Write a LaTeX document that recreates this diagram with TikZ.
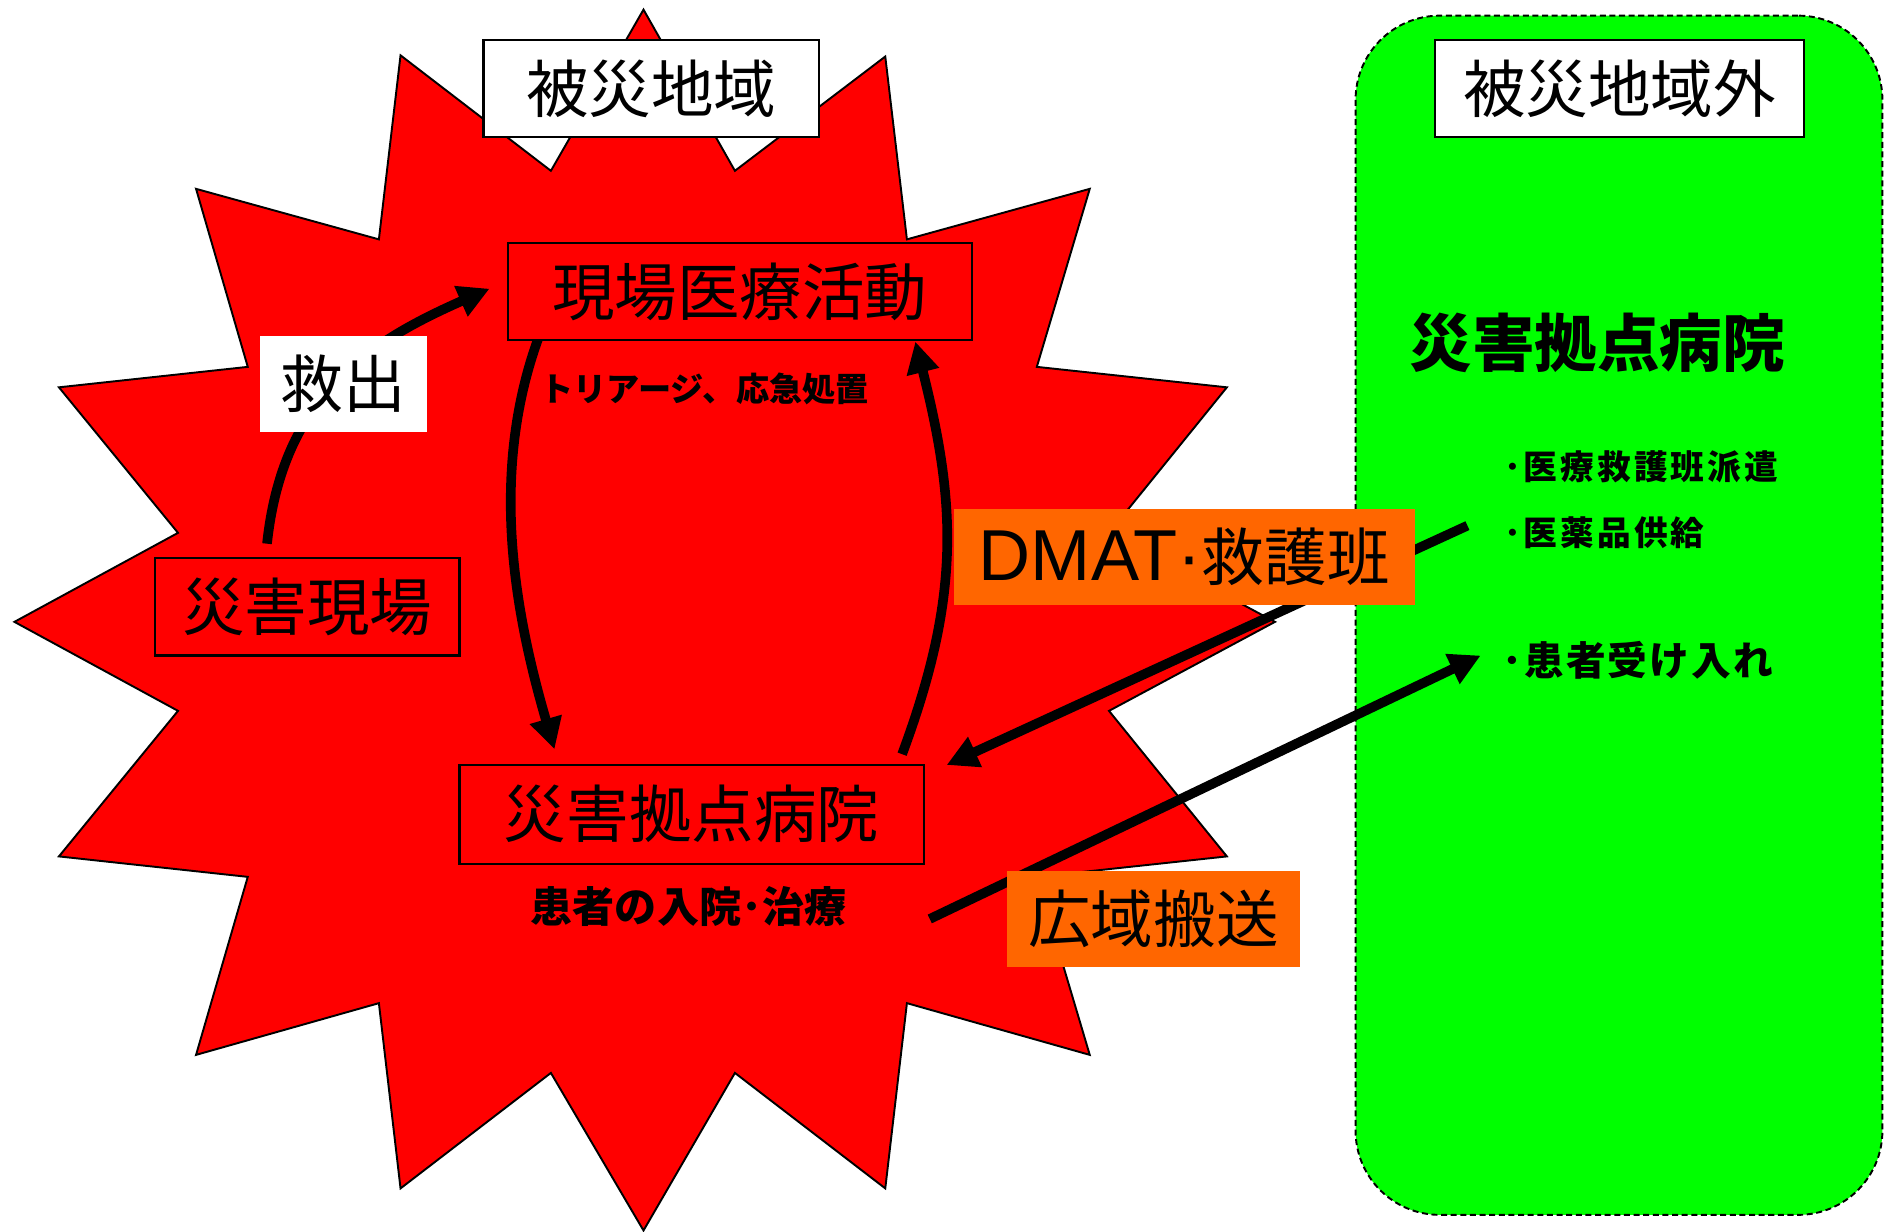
\documentclass[tikz,border=0pt]{standalone}
\usepackage{fontspec}
\setmainfont{Liberation Sans}
\newfontfamily\jp{Noto Sans CJK JP}
\newfontfamily\jpls[LetterSpace=9]{Noto Sans CJK JP}
\newfontfamily\jplt[LetterSpace=5]{Noto Sans CJK JP}
\usetikzlibrary{arrows.meta}
\definecolor{starred}{HTML}{FF0000}
\definecolor{boxorange}{HTML}{FF6600}
\definecolor{zonegreen}{HTML}{00FF00}
\begin{document}
\begin{tikzpicture}[x=0.5pt,y=-0.5pt,
  jpbig/.style={font=\jp\fontsize{26pt}{30pt}\selectfont},
  framed/.style={draw=black, line width=0.9pt, inner sep=0pt, jpbig},
  plainbox/.style={inner sep=0pt, jpbig},
  flow/.style={line width=4pt, -{Triangle[length=13pt,width=13pt]}},
  smallbold/.style={inner sep=0pt, font=\jp\bfseries\fontsize{#1}{#1}\selectfont},
  listbold/.style={anchor=west, inner sep=0pt, font=\jpls\bfseries\fontsize{#1}{#1}\selectfont},
  listboldb/.style={anchor=west, inner sep=0pt, font=\jplt\bfseries\fontsize{#1}{#1}\selectfont},
]
\useasboundingbox (0,0) rectangle (1568,1024);
\fill[white] (0,0) rectangle (1568,1024);

% zone outside the disaster area
\node[draw=black, line width=0.8pt, dash pattern=on 2.5pt off 1.5pt, fill=zonegreen,
      rounded corners=35pt, minimum width=219pt, minimum height=498.5pt, inner sep=0pt] (zone) at (1346,511.5) {};

% disaster area star
\draw[line width=0.8pt, fill=starred]
  (535,8) -- (611,142) -- (736,47) -- (754,199) -- (906,157) -- (862,305) --
  (1020,322) -- (922,443) -- (1060,517) -- (922,591) -- (1020,712) -- (862,729) --
  (906,877) -- (754,834) -- (736,988) -- (611,892) -- (535,1023) -- (458,892) --
  (333,988) -- (315,834) -- (163,877) -- (206,729) -- (49,712) -- (148,591) --
  (12,517) -- (148,443) -- (49,322) -- (206,305) -- (163,157) -- (315,199) --
  (333,46) -- (458,142) -- cycle;

% connector end points
\coordinate (r0) at (222,452);
\coordinate (r1) at (407,240);
\coordinate (la0) at (448,280);
\coordinate (la1) at (461,623);
\coordinate (ra0) at (750,627);
\coordinate (ra1) at (761,284);
\coordinate (d0) at (1220,437);
\coordinate (d1) at (787,636);
\coordinate (w0) at (773,764);
\coordinate (w1) at (1231,545);

\draw[flow] (r0) .. controls (235,330) and (305,285) .. (r1);
\draw[flow] (la0) .. controls (406.7,392.4) and (427.4,507.8) .. (la1);
\draw[flow] (ra0) .. controls (798.7,496) and (795.2,419.8) .. (ra1);
\draw[flow] (d0) -- (d1);
\draw[flow] (w0) -- (w1);

% boxes
\node[framed, fill=white, minimum width=139.5pt, minimum height=40.5pt] (area) at (541.5,73.5) {被災地域};
\node[framed, fill=starred, minimum width=193pt, minimum height=40.5pt] (field) at (615,242.5) {現場医療活動};
\node[plainbox, fill=white, minimum width=69.5pt, minimum height=40pt] (rescue) at (285.5,319) {救出};
\node[framed, fill=starred, minimum width=126.5pt, minimum height=40.5pt] (site) at (255.5,504.5) {災害現場};
\node[framed, fill=starred, minimum width=193pt, minimum height=41pt] (hosp) at (575,677) {災害拠点病院};
\node[plainbox, fill=boxorange, minimum width=191.5pt, minimum height=40pt] (dmat) at (984.5,463)
  {{\rmfamily\fontsize{30pt}{34pt}\selectfont DMAT·}救護班};
\node[plainbox, fill=boxorange, minimum width=122pt, minimum height=40pt] (wide) at (959,764) {広域搬送};
\node[framed, fill=white, minimum width=153.5pt, minimum height=40.5pt] (outlabel) at (1346.5,73.5) {被災地域外};

% texts
\node[smallbold=26pt] (ohosp) at (1328,285) {災害拠点病院};
\node[listbold=14pt] (s1) at (1250,388) {･医療救護班派遣};
\node[listbold=14pt] (s2) at (1250,443) {･医薬品供給};
\node[listboldb=16.5pt] (s3) at (1249,549) {･患者受け入れ};
\node[smallbold=13.8pt, anchor=west] (triage) at (449,323.5) {トリアージ、応急処置};
\node[smallbold=17.5pt] (treat) at (572.5,754) {患者の入院･治療};
\end{tikzpicture}
\end{document}
